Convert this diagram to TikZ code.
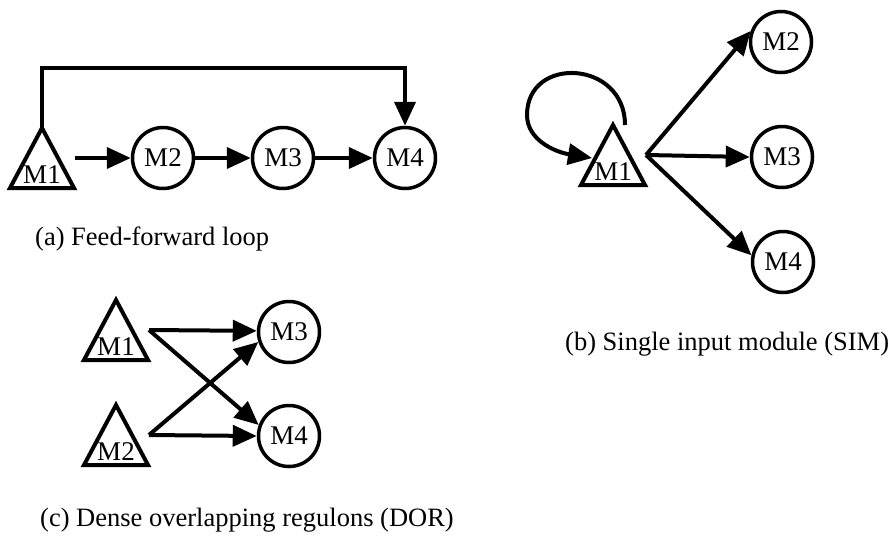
\documentclass[tikz,border=0pt]{standalone}
\usepackage{fontspec}
\setmainfont{Liberation Serif}
\usetikzlibrary{arrows.meta}
\tikzset{
  gene/.style={circle, draw, line width=3.5pt, minimum size=61pt, inner sep=0pt, font=\fontsize{27}{29}\selectfont},
  tritext/.style={inner sep=0pt, font=\fontsize{27}{29}\selectfont, anchor=base},
  triline/.style={line width=4pt, line join=miter},
  edge/.style={line width=4pt, line join=miter, -{Triangle[length=24pt,width=21pt]}},
  caption/.style={inner sep=0pt, anchor=base west, font=\fontsize{26.5}{30}\selectfont},
}
\newcommand\regtri[4]{%
  \coordinate (#1-apex) at (#2,#3-60);
  \coordinate (#1-bl) at (#2-32,#3);
  \coordinate (#1-br) at (#2+32,#3);
  \coordinate (#1-out) at (#2+33,#3-30);
  \draw[triline] (#1-apex) -- (#1-bl) -- (#1-br) -- cycle;
  \node[tritext] (#1) at (#2,#3-5) {#4};
}
\begin{document}
\begin{tikzpicture}[x=1pt,y=-1pt]
\useasboundingbox (0,0) rectangle (890,536);

% (a) Feed-forward loop
\regtri{m1a}{42}{188}{M1}
\node[gene] (m2a) at (163,158) {M2};
\node[gene] (m3a) at (283,158) {M3};
\node[gene] (m4a) at (405,158) {M4};
\draw[edge] (m1a-out) -- (m2a.west);
\draw[edge] (m2a) -- (m3a);
\draw[edge] (m3a) -- (m4a);
\coordinate (fbl) at (42,68);
\coordinate (fbr) at (405,68);
\draw[edge] (m1a-apex) -- (fbl) -- (fbr) -- (m4a.north);
\node[caption] (capa) at (35,245) {(a) Feed-forward loop};

% (b) Single input module
\regtri{m1b}{613}{185}{M1}
\node[gene] (m2b) at (781,42) {M2};
\node[gene] (m3b) at (782,157) {M3};
\node[gene] (m4b) at (783,262) {M4};
\draw[edge] (m1b-out) -- (m2b.160);
\draw[edge] (m1b-out) -- (m3b.west);
\draw[edge] (m1b-out) -- (m4b.168);
\coordinate (loopstart) at (625,125);
\coordinate (loopend) at (592,158);
\draw[edge] (loopstart) .. controls (625,60) and (527,55) .. (527,115)
  .. controls (527,140) and (555,152) .. (loopend);
\node[caption] (capb) at (565,350) {(b) Single input module (SIM)};

% (c) Dense overlapping regulons
\regtri{m1c}{116}{360}{M1}
\regtri{m2c}{116}{465}{M2}
\node[gene] (m3c) at (289,332) {M3};
\node[gene] (m4c) at (289,436) {M4};
\draw[edge] (m1c-out) -- (m3c.178);
\draw[edge] (m1c-out) -- (m4c.160);
\draw[edge] (m2c-out) -- (m3c.198);
\draw[edge] (m2c-out) -- (m4c.west);
\node[caption] (capc) at (40,526) {(c) Dense overlapping regulons (DOR)};
\end{tikzpicture}
\end{document}
